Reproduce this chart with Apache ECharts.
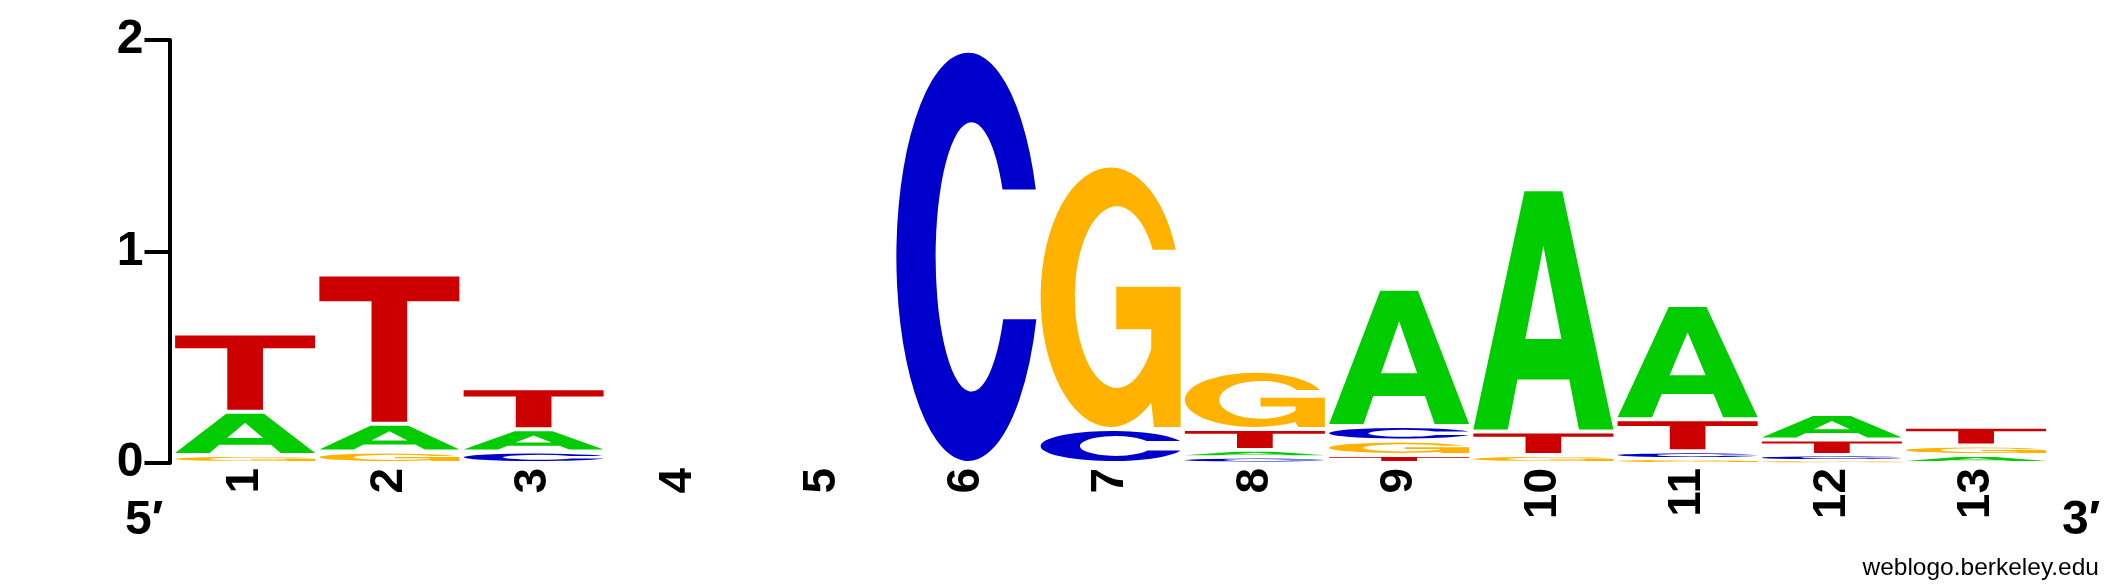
<!DOCTYPE html>
<html>
<head>
<meta charset="utf-8">
<script src="https://cdn.jsdelivr.net/npm/echarts@6/dist/echarts.min.js"></script>
<style>
html,body{margin:0;padding:0;background:#fff;}
#main{width:2125px;height:588px;}
</style>
</head>
<body>
<div id="main"></div>
<script>
// ---- data (information content in bits per letter and position) ----
const positions = ['1','2','3','4','5','6','7','8','9','10','11','12','13'];
const bitsA = [0.204, 0.131, 0.106, 0, 0, 0,     0,     0.033, 0.649, 1.145, 0.540, 0.121, 0.038];
const bitsC = [0,     0,     0.054, 0, 0, 1.949, 0.161, 0.028, 0.069, 0,     0.036, 0.026, 0];
const bitsG = [0.038, 0.054, 0,     0, 0, 0,     1.246, 0.275, 0.068, 0.038, 0.019, 0.012, 0.045];
const bitsT = [0.370, 0.706, 0.193, 0, 0, 0,     0,     0.100, 0.038, 0.111, 0.152, 0.073, 0.088];
const yTicks = [0, 1, 2];
const letters = ['A', 'C', 'G', 'T'];

// ---- glyph outlines (in a 100x100 box, stretched to each stack slot) ----
const PATHS = {
  A: 'M0 100 L36.5 0 L63.5 0 L100 100 L75.4 100 L68.5 79 L31.5 79 L24.6 100 Z M50 23 L37.1 62 L62.9 62 Z',
  C: 'M97.2 33.5 A50 50 0 1 0 97.6 65.3 L74.5 65.3 A25 33 0 1 1 74 33.5 Z',
  G: 'M96.5 31.7 A50 50 0 1 0 79 90.7 L81 100 L100 100 L100 46 L54 46 L54 62.4 L79 62.4 L79 70 A30 35 0 1 1 80 31.7 Z',
  T: 'M0 0 L100 0 L100 17 L62.75 17 L62.75 100 L37.25 100 L37.25 17 L0 17 Z'
};
const COLORS = { A: '#00cc00', C: '#0000cc', G: '#ffb300', T: '#cc0000' };

// build stacked letter slots (smallest at bottom)
const bitsBy = { A: bitsA, C: bitsC, G: bitsG, T: bitsT };
const stackData = [];
positions.forEach((p, i) => {
  const col = letters.map((L, li) => ({ li, v: bitsBy[L][i] })).filter(o => o.v > 0);
  col.sort((a, b) => a.v - b.v);
  let base = 0;
  col.forEach(o => {
    stackData.push([i, base, base + o.v, o.li]);
    base += o.v;
  });
});

const chart = echarts.init(document.getElementById('main'), null, { renderer: 'canvas' });
const FONT = "'Liberation Sans', Arial, Helvetica, sans-serif";

chart.setOption({
  animation: false,
  backgroundColor: '#ffffff',
  grid: { left: 173, right: 76.75, top: 40, bottom: 125, containLabel: false },
  xAxis: {
    type: 'category',
    data: positions,
    boundaryGap: true,
    axisLine: { show: false },
    axisTick: { show: false },
    splitLine: { show: false },
    axisLabel: {
      rotate: 90, margin: 5, interval: 0,
      fontSize: 46, fontWeight: 'bold', color: '#000', fontFamily: FONT
    }
  },
  yAxis: {
    type: 'value',
    min: yTicks[0], max: yTicks[yTicks.length - 1], interval: 1,
    offset: 3.5,
    axisLine: { show: true, lineStyle: { color: '#000', width: 4 } },
    axisTick: { show: true, length: 25, lineStyle: { color: '#000', width: 4 } },
    splitLine: { show: false },
    axisLabel: {
      margin: 26, fontSize: 48, fontWeight: 'bold', color: '#000', fontFamily: FONT
    }
  },
  series: [{
    type: 'custom',
    clip: false,
    data: stackData,
    encode: { x: 0, y: [1, 2] },
    renderItem: function (params, api) {
      const col = api.value(0), y0 = api.value(1), y1 = api.value(2);
      const L = letters[api.value(3)];
      const pb = api.coord([col, y0]);
      const pt = api.coord([col, y1]);
      const band = api.size([1, 0])[0];
      const w = band * 140 / 144.25;
      const slot = pb[1] - pt[1];
      const inset = Math.min(2, slot * 0.25);
      return {
        type: 'path',
        shape: {
          pathData: PATHS[L],
          x: pb[0] - w / 2, y: pt[1] + inset,
          width: w, height: Math.max(0.3, slot - 2 * inset),
          layout: 'cover'
        },
        style: { fill: COLORS[L], stroke: null }
      };
    }
  }],
  graphic: [
    { type: 'text', x: 125, y: 521, style: { text: '5\u2032', font: 'bold 48px ' + FONT, fill: '#000', textAlign: 'left', textVerticalAlign: 'middle' } },
    { type: 'text', x: 2062, y: 521, style: { text: '3\u2032', font: 'bold 48px ' + FONT, fill: '#000', textAlign: 'left', textVerticalAlign: 'middle' } },
    { type: 'text', x: 2099, y: 568, style: { text: 'weblogo.berkeley.edu', font: '24.5px ' + FONT, fill: '#000', textAlign: 'right', textVerticalAlign: 'middle' } }
  ]
});
</script>
</body>
</html>
